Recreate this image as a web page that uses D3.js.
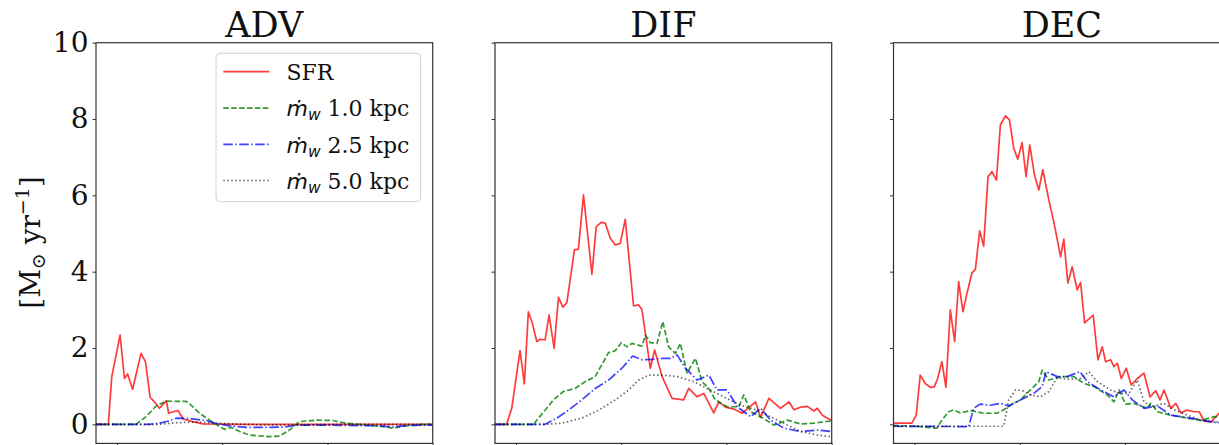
<!DOCTYPE html>
<html>
<head>
<meta charset="utf-8">
<script src="https://cdn.jsdelivr.net/npm/d3@7"></script>
<style>
  html, body { margin: 0; padding: 0; background: #fff; overflow: hidden; }
  svg { display: block; }
</style>
</head>
<body>
<svg id="chart" width="1219" height="445"></svg>
<script>
// ---------------- DATA ----------------
const panelTitles = ["ADV", "DIF", "DEC"];
const yTicks = [0, 2, 4, 6, 8, 10];
const xTicks = [1, 2, 3, 4];
const seriesLabels = ["SFR", "1.0 kpc", "2.5 kpc", "5.0 kpc"];

// ADV panel  [time, value]
const advSFR = [[0.8,0],[0.917,0],[0.95,1.25],[1.029,2.34],[1.07,1.2],[1.10,1.32],[1.148,0.92],[1.228,1.86],[1.27,1.64],[1.314,0.71],[1.355,0.59],[1.403,0.42],[1.469,0.62],[1.49,0.29],[1.536,0.33],[1.578,0.36],[1.63,0.14],[1.72,0.07],[1.815,0.01],[2.2,0],[2.8,0],[3.4,0],[4.0,0]];
const advW1 = [[0.8,0],[1.18,0],[1.276,0.2],[1.371,0.48],[1.467,0.61],[1.562,0.6],[1.657,0.6],[1.705,0.5],[1.784,0.29],[1.88,0.11],[1.975,-0.06],[2.022,-0.13],[2.086,-0.08],[2.165,-0.19],[2.26,-0.28],[2.387,-0.31],[2.45,-0.32],[2.543,-0.31],[2.638,-0.15],[2.733,0.07],[2.892,0.11],[3.05,0.1],[3.177,0.03],[3.336,-0.01],[3.526,-0.06],[3.621,-0.1],[3.75,-0.04],[3.91,0],[4.0,0]];
const advW2 = [[0.8,0],[1.3,0],[1.4,0.03],[1.48,0.08],[1.562,0.16],[1.689,0.15],[1.848,0.1],[1.943,0.02],[2.07,-0.04],[2.229,-0.08],[2.419,-0.08],[2.6,-0.07],[2.706,-0.02],[3.0,-0.02],[3.5,-0.04],[3.62,-0.07],[3.75,-0.03],[4.0,-0.02]];
const advW5 = [[0.8,0],[1.4,0],[1.55,0.04],[1.75,0.06],[1.95,0.03],[2.2,0],[2.6,-0.02],[3.2,0],[4.0,0]];

// DIF panel
const difSFR = [[0.8,0],[0.911,0],[0.959,0.42],[1.038,1.93],[1.079,1.06],[1.117,2.95],[1.155,2.65],[1.197,2.17],[1.229,2.23],[1.276,2.21],[1.314,2.87],[1.362,1.99],[1.403,3.33],[1.445,3.07],[1.483,3.19],[1.555,4.57],[1.593,4.59],[1.641,6.01],[1.721,3.93],[1.762,5.18],[1.81,5.29],[1.848,5.27],[1.895,4.88],[1.943,4.7],[1.99,4.74],[2.038,5.37],[2.117,3.1],[2.165,3.13],[2.197,3.0],[2.276,1.47],[2.317,1.95],[2.388,1.25],[2.483,0.68],[2.593,0.64],[2.641,0.94],[2.721,0.72],[2.784,0.81],[2.879,0.3],[2.927,0.59],[2.99,0.45],[3.07,0.4],[3.15,0.29],[3.276,0.59],[3.324,0.18],[3.403,0.68],[3.514,0.42],[3.593,0.59],[3.641,0.38],[3.705,0.45],[3.769,0.47],[3.831,0.35],[3.864,0.42],[3.911,0.24],[4.0,0.1]];
const difW1 = [[0.8,0],[1.165,0],[1.276,0.37],[1.355,0.64],[1.45,0.86],[1.562,0.94],[1.657,1.12],[1.752,1.25],[1.879,1.88],[1.943,1.93],[2.0,2.14],[2.054,2.03],[2.102,2.12],[2.197,2.05],[2.229,2.34],[2.276,2.14],[2.34,2.12],[2.395,2.69],[2.45,2.03],[2.514,1.86],[2.562,2.12],[2.625,1.34],[2.705,1.73],[2.768,1.12],[2.832,0.94],[2.895,0.64],[3.006,0.46],[3.117,0.46],[3.165,0.77],[3.229,0.33],[3.324,0.2],[3.45,-0.02],[3.578,0.11],[3.705,0.01],[3.831,0.03],[4.0,0.09]];
const difW2 = [[0.8,0],[1.276,0],[1.387,0.16],[1.498,0.37],[1.625,0.64],[1.752,0.94],[1.879,1.16],[2.006,1.47],[2.108,1.79],[2.197,1.69],[2.292,1.7],[2.371,1.73],[2.467,1.73],[2.53,1.82],[2.61,1.47],[2.721,1.16],[2.832,1.29],[2.911,0.9],[3.006,0.9],[3.102,0.46],[3.229,0.2],[3.324,0.42],[3.419,0.11],[3.546,-0.1],[3.705,-0.19],[3.864,-0.15],[4.0,-0.19]];
const difW5 = [[0.8,0],[1.276,0],[1.435,0.03],[1.625,0.16],[1.784,0.37],[1.943,0.64],[2.07,0.9],[2.165,1.16],[2.26,1.29],[2.40,1.29],[2.53,1.25],[2.689,1.12],[2.816,0.94],[2.974,0.72],[3.133,0.5],[3.292,0.37],[3.419,0.2],[3.578,-0.02],[3.705,-0.19],[3.864,-0.28],[4.0,-0.33]];

// DEC panel
const decSFR = [[0.8,0.03],[0.974,0.03],[1.016,0.24],[1.054,1.29],[1.102,1.07],[1.15,0.97],[1.188,0.98],[1.219,1.2],[1.26,1.64],[1.298,0.97],[1.34,3.0],[1.381,2.17],[1.419,3.74],[1.46,2.95],[1.498,3.43],[1.546,3.97],[1.578,4.06],[1.619,5.07],[1.657,4.67],[1.698,6.49],[1.736,6.62],[1.778,6.4],[1.816,7.85],[1.864,8.08],[1.902,7.98],[1.943,7.23],[1.981,6.95],[2.022,7.38],[2.06,6.49],[2.095,7.32],[2.14,6.53],[2.181,6.14],[2.219,6.67],[2.276,5.88],[2.324,5.3],[2.388,4.39],[2.419,4.85],[2.457,3.7],[2.498,4.13],[2.546,3.52],[2.578,3.72],[2.616,2.66],[2.698,2.86],[2.743,1.69],[2.784,2.03],[2.816,1.64],[2.864,1.69],[2.895,1.51],[2.927,1.6],[2.965,1.2],[3.012,1.47],[3.06,1.03],[3.117,1.2],[3.181,1.34],[3.238,0.72],[3.292,0.88],[3.333,0.64],[3.371,0.9],[3.435,0.42],[3.483,0.55],[3.53,0.3],[3.588,0.37],[3.657,0.33],[3.705,0.33],[3.752,0.08],[3.816,0.06],[3.895,0.29],[4.0,0.3]];
const decW1 = [[0.8,-0.03],[1.0,-0.05],[1.213,-0.1],[1.26,0.11],[1.324,0.33],[1.371,0.38],[1.435,0.3],[1.53,0.36],[1.657,0.29],[1.784,0.29],[1.848,0.38],[1.911,0.5],[2.006,0.64],[2.102,0.9],[2.181,1.12],[2.213,1.42],[2.276,1.16],[2.388,1.25],[2.514,1.25],[2.61,1.07],[2.705,0.99],[2.832,0.77],[2.895,0.59],[2.943,0.9],[3.006,0.53],[3.086,0.55],[3.212,0.42],[3.245,0.55],[3.308,0.33],[3.435,0.24],[3.593,0.16],[3.721,0.1],[3.848,0.2],[4.0,0.18]];
const decW2 = [[0.8,-0.05],[1.514,-0.06],[1.562,0.42],[1.625,0.53],[1.721,0.5],[1.816,0.55],[1.895,0.48],[2.006,0.64],[2.133,0.81],[2.213,0.99],[2.25,1.38],[2.356,1.25],[2.451,1.25],[2.571,1.38],[2.641,1.12],[2.768,0.9],[2.895,0.72],[2.99,0.9],[3.07,0.64],[3.181,0.42],[3.308,0.48],[3.435,0.24],[3.626,0.16],[3.816,0.07],[4.0,0.0]];
const decW5 = [[0.8,-0.05],[1.848,-0.05],[1.895,0.64],[1.959,0.9],[2.022,0.89],[2.102,0.77],[2.197,0.72],[2.276,0.86],[2.356,1.22],[2.451,1.18],[2.578,1.2],[2.657,1.38],[2.736,1.12],[2.864,0.9],[2.959,0.81],[3.038,0.81],[3.117,1.16],[3.181,0.59],[3.26,0.46],[3.371,0.55],[3.467,0.38],[3.593,0.24],[3.721,0.11],[3.848,0.07],[4.0,0.03]];

const panelData = [
  [advSFR, advW1, advW2, advW5],
  [difSFR, difW1, difW2, difW5],
  [decSFR, decW1, decW2, decW5]
];

// ---------------- STYLE ----------------
const styles = [
  { color: "#ff1a1a", dash: null,              opacity: 0.85 },
  { color: "#008000", dash: "5.5,2.4",         opacity: 0.8 },
  { color: "#0000ff", dash: "9.6,2.4,1.5,2.4", opacity: 0.75 },
  { color: "#000000", dash: "1.5,2.5",         opacity: 0.6 }
];

const svg = d3.select("#chart");
const panelLeft = [96, 495, 893.5];
const panelW = 336.7;
const plotTop = 42.7, plotBottom = 443.4;
const serif = "'DejaVu Serif', serif";

const yScale = d3.scaleLinear().domain([-0.5, 10]).range([plotBottom, plotTop]);

panelTitles.forEach((title, p) => {
  const x0 = panelLeft[p];
  const xScale = d3.scaleLinear().domain([0.8, 4.0]).range([x0, x0 + panelW]);
  const g = svg.append("g");

  const clipId = "clip" + p;
  svg.append("clipPath").attr("id", clipId)
    .append("rect").attr("x", x0).attr("y", plotTop).attr("width", panelW).attr("height", plotBottom - plotTop);

  // lines
  const line = d3.line().x(d => xScale(d[0])).y(d => yScale(d[1]));
  const lg = g.append("g").attr("clip-path", `url(#${clipId})`);
  panelData[p].forEach((ser, i) => {
    const s = styles[i];
    lg.append("path")
      .attr("d", line(ser))
      .attr("fill", "none")
      .attr("stroke", s.color)
      .attr("stroke-opacity", s.opacity)
      .attr("stroke-width", 1.7)
      .attr("stroke-dasharray", s.dash)
      .attr("stroke-linejoin", "round");
  });

  // axes
  const yAxis = d3.axisLeft(yScale).tickValues(yTicks).tickSize(3.5).tickPadding(4)
    .tickFormat(p === 0 ? d3.format("d") : () => "");
  const ya = g.append("g").attr("transform", `translate(${x0},0)`).call(yAxis);
  ya.select(".domain").remove();
  ya.selectAll("line").attr("stroke", "#333").attr("stroke-width", 1);
  ya.selectAll("text").attr("font-family", serif).attr("font-size", 28).attr("fill", "#111");

  const xAxis = d3.axisBottom(xScale).tickValues(xTicks).tickSize(3.5).tickFormat(() => "");
  const xa = g.append("g").attr("transform", `translate(0,${plotBottom})`).call(xAxis);
  xa.select(".domain").remove();
  xa.selectAll("line").attr("stroke", "#333").attr("stroke-width", 1);

  // frame
  g.append("rect").attr("x", x0).attr("y", plotTop).attr("width", panelW).attr("height", plotBottom - plotTop)
    .attr("fill", "none").attr("stroke", "#333").attr("stroke-width", 1.2);

  // title
  g.append("text").attr("x", x0 + panelW / 2).attr("y", 37)
    .attr("text-anchor", "middle").attr("font-family", serif).attr("font-size", 35)
    .attr("fill", "#111").text(title);
});

// y label
const yl = svg.append("text")
  .attr("transform", "translate(40,242.5) rotate(-90)")
  .attr("text-anchor", "middle").attr("font-family", serif).attr("font-size", 28).attr("fill", "#111");
yl.append("tspan").text("[M");
yl.append("tspan").attr("font-size", 19).attr("dy", 5).text("\u2299");
yl.append("tspan").attr("dy", -5).text(" yr");
yl.append("tspan").attr("font-size", 19).attr("dy", -11).text("\u22121");
yl.append("tspan").attr("dy", 11).text("]");

// legend
const leg = svg.append("g");
leg.append("rect").attr("x", 216).attr("y", 53.3).attr("width", 204.7).attr("height", 148.4)
  .attr("rx", 4).attr("fill", "#fff").attr("fill-opacity", 0.8)
  .attr("stroke", "#d0d0d0").attr("stroke-width", 1);
const rowY = [71.7, 108.1, 144.4, 180.5];
seriesLabels.forEach((lab, i) => {
  const s = styles[i];
  leg.append("line").attr("x1", 223.3).attr("x2", 269.3).attr("y1", rowY[i]).attr("y2", rowY[i])
    .attr("stroke", s.color).attr("stroke-opacity", s.opacity).attr("stroke-width", 1.7)
    .attr("stroke-dasharray", s.dash);
  const t = leg.append("text").attr("x", 286.5).attr("y", rowY[i] + 8.3)
    .attr("font-family", serif).attr("font-size", 22).attr("fill", "#111");
  if (i === 0) {
    t.text(lab);
  } else {
    t.append("tspan").attr("font-family", "'DejaVu Sans', sans-serif").attr("font-style", "italic").text("m\u0307");
    t.append("tspan").attr("font-family", "'DejaVu Sans', sans-serif").attr("font-style", "italic")
      .attr("font-size", 15.5).attr("dy", 4).text("w");
    t.append("tspan").attr("dy", -4).text(" " + lab);
  }
});
</script>
</body>
</html>
